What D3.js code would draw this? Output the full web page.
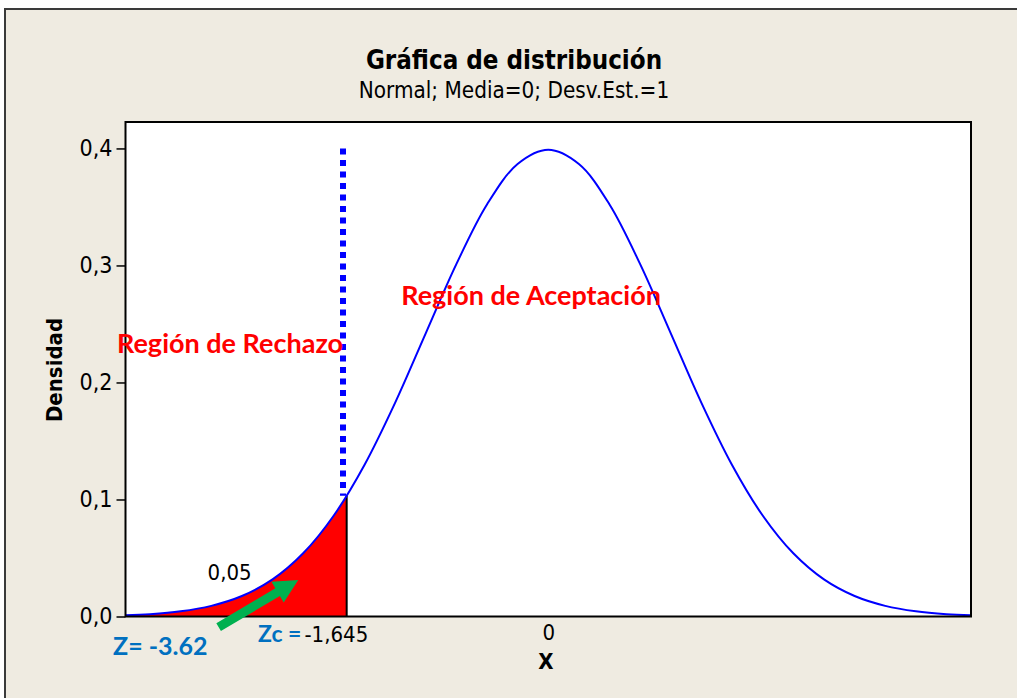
<!DOCTYPE html>
<html>
<head>
<meta charset="utf-8">
<script src="https://cdn.jsdelivr.net/npm/d3@7"></script>
<style>
  html, body { margin: 0; padding: 0; background: #ffffff; }
  svg { display: block; }
</style>
</head>
<body>
<svg id="chart" width="1017" height="698"></svg>
<script>
// Normal(0,1) density sampled every 0.25
const xValues = [-3.5, -3.25, -3.0, -2.75, -2.5, -2.25, -2.0, -1.75, -1.5, -1.25, -1.0, -0.75, -0.5, -0.25,
                 0, 0.25, 0.5, 0.75, 1.0, 1.25, 1.5, 1.75, 2.0, 2.25, 2.5, 2.75, 3.0, 3.25, 3.5];
const densityValues = [0.0009, 0.0020, 0.0044, 0.0091, 0.0175, 0.0317, 0.0540, 0.0863, 0.1295, 0.1826, 0.2420, 0.3011, 0.3521, 0.3867,
                       0.3989, 0.3867, 0.3521, 0.3011, 0.2420, 0.1826, 0.1295, 0.0863, 0.0540, 0.0317, 0.0175, 0.0091, 0.0044, 0.0020, 0.0009];

// Critical value and its density
const criticalZ = -1.645;
const criticalDensity = 0.1031;
const alphaLabel = "0,05";
const testZ = "-3.62";

// Axis ticks
const yTicks = [0, 0.1, 0.2, 0.3, 0.4];
const yTickLabels = ["0,0", "0,1", "0,2", "0,3", "0,4"];
const xTicks = [0];
const xTickLabels = ["0"];

const svg = d3.select("#chart");
const W = 1017, H = 698;

// outer panel
svg.append("rect").attr("x", 0).attr("y", 0).attr("width", W).attr("height", H).attr("fill", "#ffffff");
svg.append("rect").attr("x", 5).attr("y", 9).attr("width", 1040).attr("height", 720)
  .attr("fill", "#efebe1").attr("stroke", "#3a3a3a").attr("stroke-width", 2);

const plot = { left: 125.5, right: 971, top: 122, bottom: 616.5 };

const x = d3.scaleLinear().domain([-3.45, 3.45]).range([plot.left, plot.right]);
const y = d3.scaleLinear().domain([0, 0.4226]).range([plot.bottom, plot.top]);

const pts = xValues.map((v, i) => ({ x: v, y: densityValues[i] }));

// plot background
svg.append("rect").attr("x", plot.left).attr("y", plot.top)
  .attr("width", plot.right - plot.left).attr("height", plot.bottom - plot.top)
  .attr("fill", "#ffffff");

const defs = svg.append("defs");
defs.append("clipPath").attr("id", "plotClip").append("rect")
  .attr("x", plot.left).attr("y", plot.top)
  .attr("width", plot.right - plot.left).attr("height", plot.bottom - plot.top);
defs.append("clipPath").attr("id", "tailClip").append("rect")
  .attr("x", plot.left).attr("y", plot.top)
  .attr("width", x(criticalZ) - plot.left).attr("height", plot.bottom - plot.top);

const g = svg.append("g").attr("clip-path", "url(#plotClip)");

// rejection region
const area = d3.area().x(d => x(d.x)).y0(y(0)).y1(d => y(d.y)).curve(d3.curveCatmullRom);
g.append("path").datum(pts).attr("d", area).attr("fill", "#ff0000").attr("clip-path", "url(#tailClip)");

// boundary at the critical value
g.append("line").attr("x1", x(criticalZ)).attr("x2", x(criticalZ))
  .attr("y1", y(0)).attr("y2", y(criticalDensity))
  .attr("stroke", "#000000").attr("stroke-width", 2);

// density curve
const line = d3.line().x(d => x(d.x)).y(d => y(d.y)).curve(d3.curveCatmullRom);
g.append("path").datum(pts).attr("d", line).attr("fill", "none")
  .attr("stroke", "#0000ff").attr("stroke-width", 2);

// dotted marker line
const markerX = -1.675;
g.append("line").attr("x1", x(markerX)).attr("x2", x(markerX))
  .attr("y1", y(0.4)).attr("y2", y(criticalDensity))
  .attr("stroke", "#0000ff").attr("stroke-width", 6)
  .attr("stroke-dasharray", "6,5.5");

// plot frame
svg.append("rect").attr("x", plot.left).attr("y", plot.top)
  .attr("width", plot.right - plot.left).attr("height", plot.bottom - plot.top)
  .attr("fill", "none").attr("stroke", "#000000").attr("stroke-width", 2);

const baseFont = "'DejaVu Sans Condensed', 'DejaVu Sans', sans-serif";
const calloutFont = "Lato, 'Open Sans', sans-serif";

// y axis
const yAxis = d3.axisLeft(y).tickValues(yTicks)
  .tickFormat((d, i) => yTickLabels[i]).tickSize(9).tickPadding(4);
const yG = svg.append("g").attr("transform", `translate(${plot.left},0)`).call(yAxis);
yG.select(".domain").remove();
yG.selectAll(".tick line").attr("stroke", "#000").attr("stroke-width", 1.5);
yG.selectAll(".tick text").attr("font-family", baseFont).attr("font-size", 23).attr("fill", "#000");

// x axis labels
const xAxis = d3.axisBottom(x).tickValues(xTicks).tickFormat((d, i) => xTickLabels[i]).tickSize(0).tickPadding(8);
const xG = svg.append("g").attr("transform", `translate(0,${plot.bottom})`).call(xAxis);
xG.select(".domain").remove();
xG.selectAll(".tick text").attr("font-family", baseFont).attr("font-size", 22).attr("fill", "#000");

// titles
svg.append("text").attr("x", 514).attr("y", 69).attr("text-anchor", "middle")
  .attr("font-family", baseFont).attr("font-weight", "bold").attr("font-size", 25.7)
  .text("Gráfica de distribución");
svg.append("text").attr("x", 514).attr("y", 98).attr("text-anchor", "middle")
  .attr("font-family", baseFont).attr("font-size", 22.3)
  .text("Normal; Media=0; Desv.Est.=1");

svg.append("text").attr("x", 546).attr("y", 669).attr("text-anchor", "middle")
  .attr("font-family", baseFont).attr("font-weight", "bold").attr("font-size", 22)
  .text("X");
svg.append("text").attr("transform", "translate(62,370) rotate(-90)").attr("text-anchor", "middle")
  .attr("font-family", baseFont).attr("font-weight", "bold").attr("font-size", 22)
  .text("Densidad");

// region labels
svg.append("text").attr("x", 117).attr("y", y(0.2248)).attr("font-family", calloutFont)
  .attr("font-weight", "bold").attr("font-size", 27).attr("fill", "#ff0000")
  .text("Región de Rechazo");
svg.append("text").attr("x", x(-1.2)).attr("y", y(0.2662)).attr("font-family", calloutFont)
  .attr("font-weight", "bold").attr("font-size", 27).attr("fill", "#ff0000")
  .text("Región de Aceptación");

// tail area label
svg.append("text").attr("x", x(-2.78)).attr("y", y(0.031)).attr("font-family", baseFont)
  .attr("font-size", 22).attr("fill", "#000").text(alphaLabel);

// critical value label
const zc = svg.append("text").attr("x", 258).attr("y", y(-0.0218));
zc.append("tspan").attr("font-family", calloutFont).attr("font-weight", "bold").attr("font-size", 23)
  .attr("fill", "#0070c0").text("Zc =");
zc.append("tspan").attr("font-family", baseFont).attr("font-size", 22).attr("fill", "#000")
  .attr("dx", 3).text(String(criticalZ).replace(".", ","));

// test statistic label
svg.append("text").attr("x", 113).attr("y", y(-0.0329)).attr("font-family", calloutFont)
  .attr("font-weight", "bold").attr("font-size", 25).attr("fill", "#0070c0")
  .text("Z= " + testZ);

// green arrow pointing into the tail
const arrowFrom = [-2.69, -0.009], arrowTo = [-2.04, 0.0312];
const ax0 = x(arrowFrom[0]), ay0 = y(arrowFrom[1]), ax1 = x(arrowTo[0]), ay1 = y(arrowTo[1]);
const ang = Math.atan2(ay1 - ay0, ax1 - ax0);
const len = Math.hypot(ax1 - ax0, ay1 - ay0);
const headLen = 24, headHalf = 12, shaftHalf = 4.5;
const arrowPts = [
  [0, -shaftHalf], [len - headLen, -shaftHalf], [len - headLen, -headHalf], [len, 0],
  [len - headLen, headHalf], [len - headLen, shaftHalf], [0, shaftHalf]
];
svg.append("polygon")
  .attr("points", arrowPts.map(p => p.join(",")).join(" "))
  .attr("transform", `translate(${ax0},${ay0}) rotate(${ang * 180 / Math.PI})`)
  .attr("fill", "#00b050");
</script>
</body>
</html>
